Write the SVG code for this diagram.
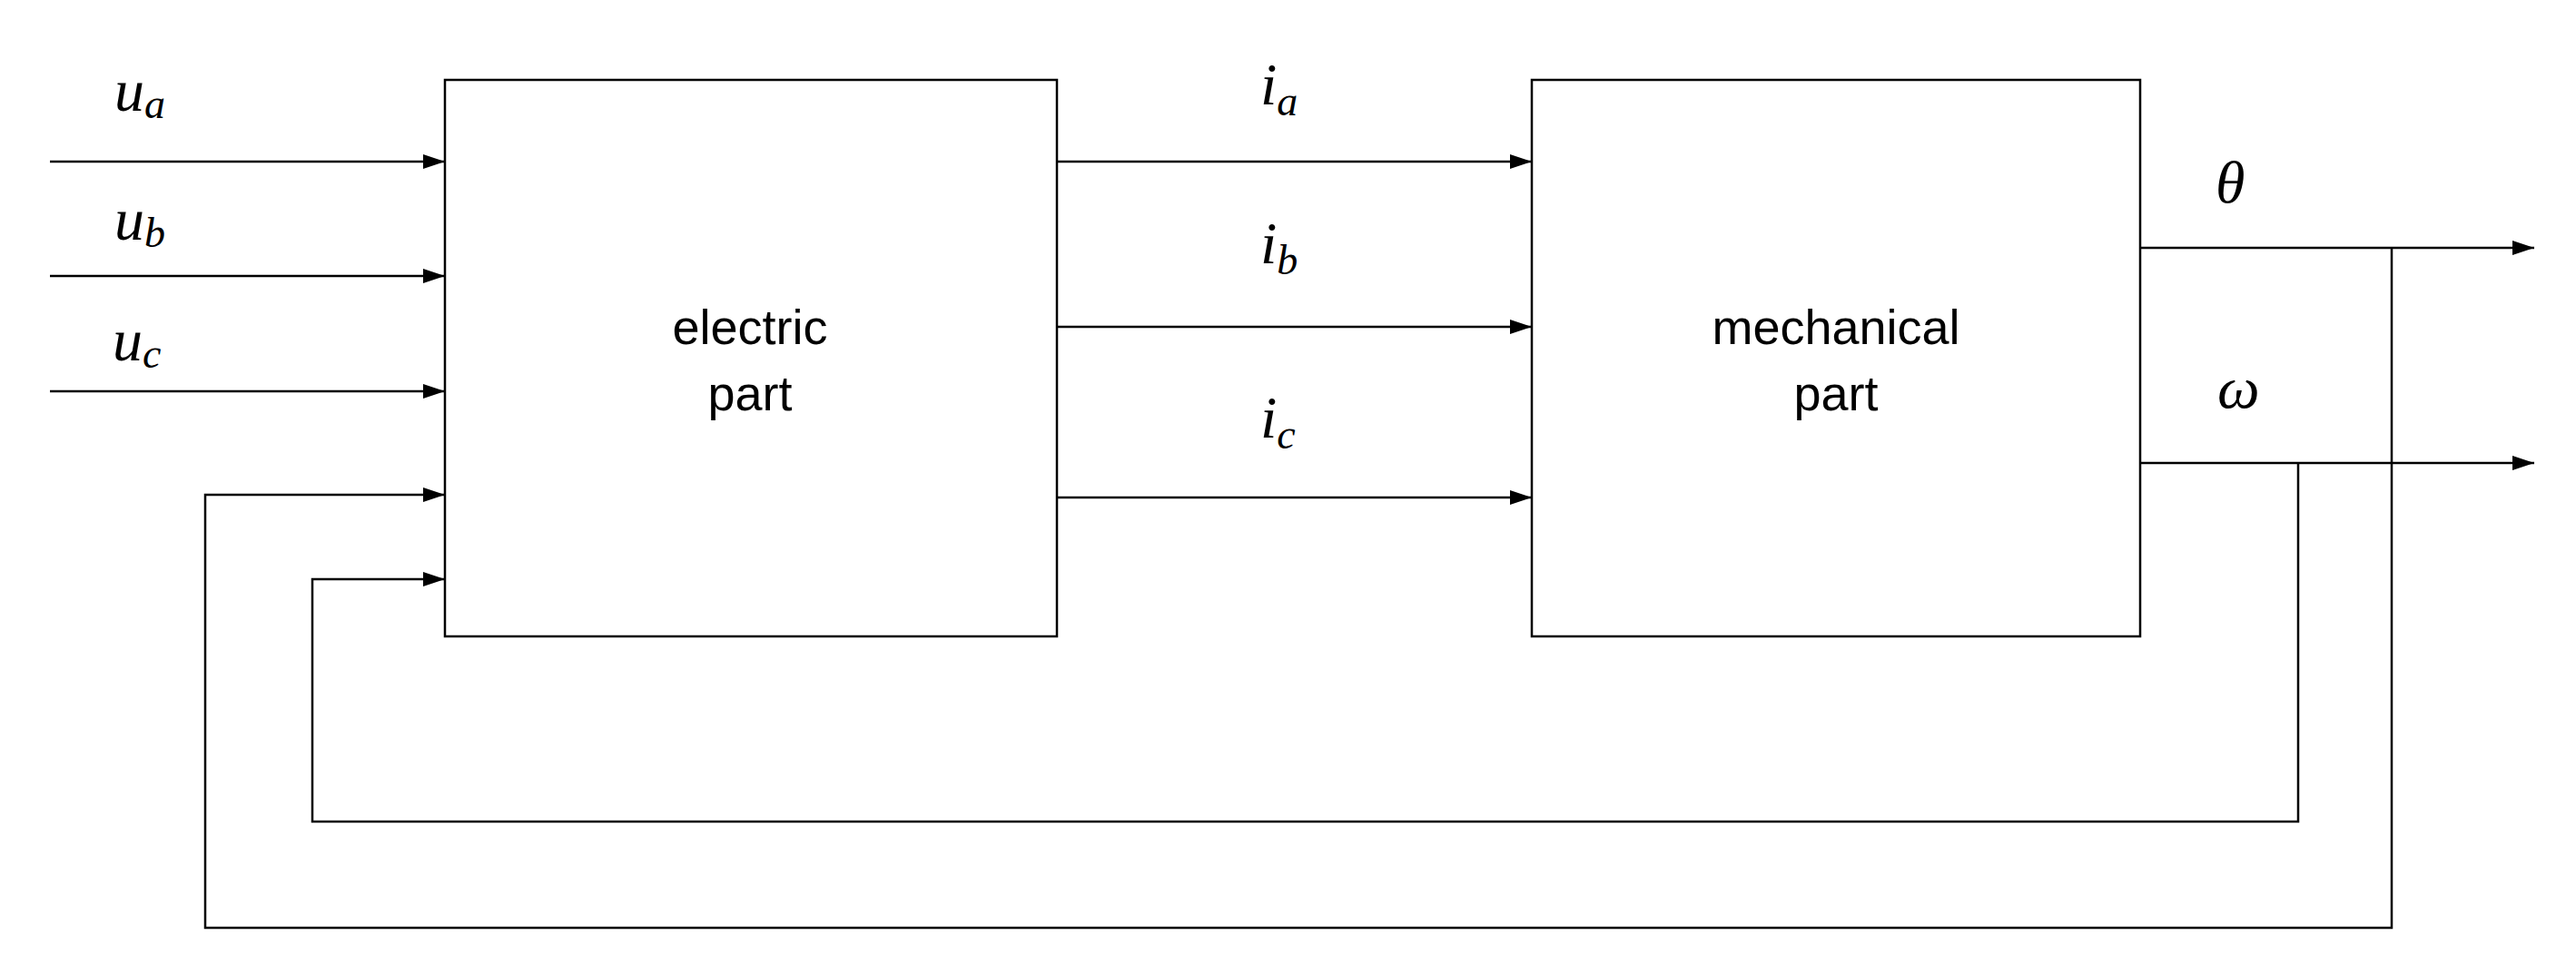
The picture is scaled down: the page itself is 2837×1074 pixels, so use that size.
<svg xmlns="http://www.w3.org/2000/svg" width="2837" height="1074" viewBox="0 0 2837 1074">
<style>
.b{fill:#fff;stroke:#000;stroke-width:2.5}
.l{fill:none;stroke:#000;stroke-width:2.5}
.t{font-family:"Liberation Sans",Arial,sans-serif;font-size:54px;text-anchor:middle}
.m{font-family:"Liberation Serif","DejaVu Serif",serif;font-style:italic;font-size:66px}
.s{font-size:46px}
</style>
<defs><marker id="a" markerWidth="24" markerHeight="16" refX="24" refY="8" orient="auto" markerUnits="userSpaceOnUse"><path d="M0,0L24,8L0,16z" fill="#000"/></marker></defs>
<g id="connectors">
<path class="l" d="M55,178H490" marker-end="url(#a)"/>
<path class="l" d="M55,304H490" marker-end="url(#a)"/>
<path class="l" d="M55,431H490" marker-end="url(#a)"/>
<path class="l" d="M1164,178H1687" marker-end="url(#a)"/>
<path class="l" d="M1164,360H1687" marker-end="url(#a)"/>
<path class="l" d="M1164,548H1687" marker-end="url(#a)"/>
<path class="l" d="M2357,273H2791" marker-end="url(#a)"/>
<path class="l" d="M2357,510H2791" marker-end="url(#a)"/>
<path class="l" d="M2634,273V1022H226V545H490" marker-end="url(#a)"/>
<path class="l" d="M2531,510V905H344V638H490" marker-end="url(#a)"/>
</g>
<g id="electric"><rect class="b" x="490" y="88" width="674" height="613"/><text class="t" x="826" y="379">electric</text><text class="t" x="826" y="452">part</text></g>
<g id="mechanical"><rect class="b" x="1687" y="88" width="670" height="613"/><text class="t" x="2022" y="379">mechanical</text><text class="t" x="2022" y="452">part</text></g>
<g id="labels">
<text class="m" x="126" y="122">u<tspan class="s" dy="8">a</tspan></text>
<text class="m" x="126" y="264">u<tspan class="s" dy="8">b</tspan></text>
<text class="m" x="124" y="397">u<tspan class="s" dy="8">c</tspan></text>
<text class="m" x="1388" y="115">i<tspan class="s" dy="12">a</tspan></text>
<text class="m" x="1388" y="290">i<tspan class="s" dy="12">b</tspan></text>
<text class="m" x="1388" y="482">i<tspan class="s" dy="12">c</tspan></text>
<text class="m" x="2440" y="223">θ</text>
<text class="m" x="2442" y="449">ω</text>
</g>
</svg>
